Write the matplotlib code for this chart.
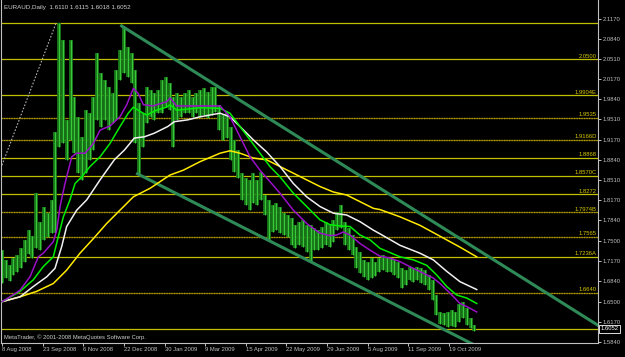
import matplotlib
matplotlib.use("Agg")
import matplotlib.pyplot as plt

symbol_title = "EURAUD,Daily  1.6110 1.6115 1.6018 1.6052"
copyright_text = "MetaTrader, \u00a9 2001-2008 MetaQuotes Software Corp."
last_close = 1.6052

# price bars, one every 3rd bar starting at bar 0
bar_step = 3
bar_high = [1.735, 1.719, 1.710, 1.722, 1.727, 1.739, 1.752, 1.768, 1.758, 1.829,
            1.781, 1.806, 1.796, 1.818, 1.930, 2.110, 2.082, 1.950, 2.082, 1.988,
            1.955, 1.922, 1.966, 1.961, 1.988, 2.060, 2.027, 2.016, 2.004, 1.994,
            2.032, 2.065, 2.103, 2.070, 2.060, 2.032, 1.978, 1.961, 2.004, 1.999,
            1.994, 1.999, 2.016, 2.021, 2.011, 1.988, 1.994, 1.988, 1.994, 1.999,
            1.988, 1.994, 1.999, 2.003, 1.996, 2.004, 2.004, 1.975, 1.958, 1.963,
            1.938, 1.917, 1.900, 1.862, 1.854, 1.851, 1.862, 1.851, 1.864, 1.826,
            1.818, 1.810, 1.813, 1.806, 1.796, 1.793, 1.788, 1.777, 1.781, 1.785,
            1.777, 1.777, 1.772, 1.768, 1.773, 1.781, 1.777, 1.785, 1.798, 1.810,
            1.781, 1.772, 1.760, 1.740, 1.732, 1.719, 1.715, 1.722, 1.715, 1.722,
            1.727, 1.724, 1.722, 1.719, 1.715, 1.706, 1.702, 1.707, 1.706, 1.707,
            1.706, 1.702, 1.694, 1.686, 1.661, 1.633, 1.631, 1.633, 1.636, 1.633,
            1.646, 1.649, 1.640, 1.623, 1.6115]
bar_low = [1.681, 1.689, 1.684, 1.694, 1.699, 1.706, 1.715, 1.729, 1.722, 1.739,
           1.735, 1.752, 1.757, 1.763, 1.763, 1.905, 1.912, 1.884, 1.917, 1.895,
           1.862, 1.851, 1.862, 1.884, 1.900, 1.950, 1.938, 1.950, 1.933, 1.945,
           1.950, 2.016, 2.027, 2.021, 2.011, 1.912, 1.859, 1.905, 1.945, 1.955,
           1.950, 1.961, 1.961, 1.971, 1.966, 1.905, 1.950, 1.955, 1.961, 1.961,
           1.955, 1.961, 1.955, 1.958, 1.953, 1.958, 1.963, 1.933, 1.917, 1.920,
           1.884, 1.864, 1.854, 1.818, 1.810, 1.801, 1.813, 1.810, 1.818, 1.793,
           1.752, 1.765, 1.768, 1.763, 1.760, 1.757, 1.743, 1.739, 1.743, 1.740,
           1.732, 1.715, 1.735, 1.735, 1.739, 1.743, 1.740, 1.748, 1.768, 1.772,
           1.743, 1.735, 1.727, 1.706, 1.697, 1.691, 1.686, 1.689, 1.692, 1.699,
           1.702, 1.699, 1.699, 1.694, 1.689, 1.673, 1.678, 1.686, 1.683, 1.686,
           1.681, 1.678, 1.669, 1.653, 1.628, 1.613, 1.612, 1.608, 1.610, 1.608,
           1.617, 1.623, 1.612, 1.607, 1.6018]

# moving averages (bar index, price)
ma_purple_x = [0, 6.3, 14.2, 22, 28.6, 32.5, 40.4, 43.1, 45.7, 49.6, 54.9, 58.8, 65.4,
               71.9, 77.2, 85, 92.9, 98.2, 103.4, 107.1, 111.3, 118.9, 129.7, 132.3,
               137.6, 155.9, 171.7, 179.5, 187.4, 195.3, 203.1, 211, 218.9, 229.4,
               239.9, 250.4, 258.3, 263.5, 268.7, 274, 281.9, 289.8, 297.6, 305.5,
               313.4, 323.9, 331.7, 339.6, 344.9, 352.8, 360.6, 365.9, 373.8]
ma_purple_y = [1.650, 1.658, 1.669, 1.691, 1.724, 1.730, 1.749, 1.768, 1.807, 1.845,
               1.889, 1.895, 1.895, 1.911, 1.933, 1.940, 1.955, 1.975, 2.002, 1.994,
               1.975, 1.973, 1.980, 1.986, 1.973, 1.973, 1.973, 1.955, 1.922, 1.889,
               1.867, 1.848, 1.829, 1.801, 1.779, 1.763, 1.759, 1.760, 1.765, 1.760,
               1.746, 1.735, 1.725, 1.722, 1.716, 1.705, 1.697, 1.689, 1.680, 1.664,
               1.647, 1.642, 1.633]

ma_green_x = [0, 14.2, 24.6, 32.5, 40.4, 44.3, 48.3, 53.5, 57.5, 62.8, 69.3, 77.2, 85,
              92.9, 99.4, 103.4, 108.7, 113.9, 121.8, 129.7, 132.3, 137.6, 155.9,
              171.7, 179.5, 187.4, 195.3, 203.1, 211, 218.9, 229.4, 239.9, 250.4,
              258.3, 266.1, 274, 281.9, 289.8, 297.6, 313.4, 323.9, 334.4, 342.3,
              350.2, 358, 365.9, 373.8]
ma_green_y = [1.650, 1.667, 1.686, 1.708, 1.724, 1.757, 1.790, 1.818, 1.845, 1.856,
              1.873, 1.889, 1.911, 1.939, 1.961, 1.971, 1.964, 1.958, 1.966, 1.971,
              1.975, 1.966, 1.970, 1.969, 1.961, 1.939, 1.917, 1.895, 1.873, 1.856,
              1.829, 1.807, 1.785, 1.777, 1.775, 1.774, 1.760, 1.752, 1.738, 1.724,
              1.719, 1.710, 1.694, 1.675, 1.661, 1.656, 1.647]

ma_white_x = [0, 14.2, 24.6, 35.2, 41.7, 47, 50.9, 58.8, 66.7, 77.2, 88.4, 96.3, 104.2,
              112, 119.9, 130.5, 135.7, 146.2, 155.9, 171.7, 179.5, 187.4, 197.9,
              208.4, 218.9, 229.4, 239.9, 250.4, 260.9, 271.4, 281.9, 292.4, 297.6,
              313.4, 329.1, 339.6, 350.2, 360.6, 373.8]
ma_white_y = [1.650, 1.658, 1.675, 1.691, 1.705, 1.741, 1.774, 1.801, 1.818, 1.851,
              1.884, 1.900, 1.920, 1.922, 1.928, 1.939, 1.947, 1.950, 1.955, 1.961,
              1.955, 1.939, 1.917, 1.897, 1.873, 1.845, 1.823, 1.807, 1.796, 1.793,
              1.782, 1.768, 1.762, 1.743, 1.730, 1.719, 1.700, 1.683, 1.670]

ma_yellow_x = [0, 14.2, 27.3, 40.4, 50.9, 61.4, 71.9, 82.4, 92.9, 103.4, 116.5, 132.3,
               142.8, 155.9, 171.7, 179.5, 187.4, 197.9, 208.4, 218.9, 229.4, 239.9,
               250.4, 260.9, 271.4, 281.9, 292.4, 297.6, 313.4, 329.1, 344.9, 360.6,
               373.8]
ma_yellow_y = [1.650, 1.658, 1.667, 1.680, 1.702, 1.730, 1.754, 1.779, 1.801, 1.823,
               1.837, 1.859, 1.867, 1.881, 1.895, 1.899, 1.895, 1.887, 1.884, 1.873,
               1.862, 1.851, 1.840, 1.831, 1.826, 1.815, 1.804, 1.802, 1.790, 1.776,
               1.758, 1.740, 1.724]

# trend lines (bar, price anchors)
upper_channel_x = [94.2, 469.3]
upper_channel_y = [2.105, 1.611]
lower_channel_x = [106.7, 380]
lower_channel_y = [1.861, 1.570]
dotted_x = [-1, 42.4]
dotted_y = [1.870, 2.109]

fib_levels = [2.1104, 2.0500, 1.9904, 1.9535, 1.9166, 1.8868, 1.8570, 1.8272,
              1.7974, 1.7565, 1.7236, 1.6640, 1.6052]
fib_labels = ["", "2.0500", "1.9904E", "1.9535", "1.9166D", "1.8868", "1.8570C",
              "1.8272", "1.7974B", "1.7565", "1.7236A", "1.6640", ""]
fib_dotted = [False, False, False, True, True, False, False, False, True, True,
              False, True, False]

price_ticks = [2.1170, 2.0840, 2.0510, 2.0170, 1.9840, 1.9510, 1.9170, 1.8840,
               1.8510, 1.8170, 1.7840, 1.7500, 1.7170, 1.6840, 1.6500, 1.6170, 1.5840]
date_labels = ["8 Aug 2008", "23 Sep 2008", "6 Nov 2008", "22 Dec 2008", "30 Jan 2009",
               "9 Mar 2009", "15 Apr 2009", "22 May 2009", "29 Jun 2009", "5 Aug 2009",
               "11 Sep 2009", "19 Oct 2009"]
bars_per_label = 32

plt.rcParams['font.family'] = ['Liberation Sans', 'DejaVu Sans']
axis_col = '#c0c0c0'
fs = 4.2

fig = plt.figure(figsize=(6.25, 3.57), dpi=100, facecolor='black')
ax = fig.add_axes([1 / 625, 14 / 357, 597 / 625, 343 / 357], facecolor='black')
ax.set_xlim(-0.8, 469.3)
ax.set_ylim(1.5818, 2.1478)

# fibo levels
for lev, lab, dot in zip(fib_levels, fib_labels, fib_dotted):
    if dot:
        ax.axhline(lev, color='#6e5c00', lw=0.9, zorder=1)
        ax.axhline(lev, color='#b0a000', lw=0.9, ls=(0, (1, 1)), zorder=1)
    else:
        ax.axhline(lev, color='#c0c000', lw=0.9, zorder=1)
    if lab:
        ax.text(0.998, lev + 0.0012, lab, transform=ax.get_yaxis_transform(),
                ha='right', va='bottom', color='#d8c800', fontsize=fs)

# price bars: dark body plus a thinner bright core for the bar texture
bar_x = [i * bar_step for i in range(len(bar_high))]
ax.vlines(bar_x, bar_low, bar_high, color='#1a7f1a', lw=2.7, zorder=2)
ax.vlines(bar_x, bar_low, bar_high, color='#3ccc3c', lw=0.7, zorder=2)

# channel lines
ax.plot(upper_channel_x, upper_channel_y, color='#2e8b57', lw=2.2, zorder=3)
ax.plot(lower_channel_x, lower_channel_y, color='#2e8b57', lw=2.2, zorder=3)
ax.plot(dotted_x, dotted_y, color='#b0b0b0', lw=0.8, ls=(0, (1.5, 1.5)), zorder=3)

# moving averages
ax.plot(ma_yellow_x, ma_yellow_y, color='#ffea00', lw=1.1, zorder=4)
ax.plot(ma_white_x, ma_white_y, color='#f0f0f0', lw=1.1, zorder=4)
ax.plot(ma_green_x, ma_green_y, color='#00ee00', lw=1.1, zorder=4)
ax.plot(ma_purple_x, ma_purple_y, color='#9a10c8', lw=1.1, zorder=4)

# axes styling
ax.spines['top'].set_visible(False)
for side in ['left', 'right', 'bottom']:
    ax.spines[side].set_color(axis_col)
    ax.spines[side].set_linewidth(0.8)

ax.yaxis.tick_right()
ax.set_yticks(price_ticks)
ax.set_yticklabels(['%.4f' % p for p in price_ticks])
ax.tick_params(axis='y', colors=axis_col, labelsize=fs, length=2.2, width=0.7,
               pad=1.4, direction='out')

xt = [i * bars_per_label for i in range(len(date_labels))]
ax.set_xticks(xt)
ax.set_xticklabels(date_labels, ha='left')
ax.tick_params(axis='x', colors=axis_col, labelsize=fs, length=2.2, width=0.7,
               pad=0.8, direction='out')

# texts
ax.text(0.005, 0.985, symbol_title, transform=ax.transAxes, ha='left', va='top',
        color='#d0d0d0', fontsize=fs + 0.3)
ax.text(0.005, 0.008, copyright_text, transform=ax.transAxes, ha='left', va='bottom',
        color='#d0d0d0', fontsize=fs)
ax.text(1.004, last_close, '%.4f' % last_close, transform=ax.get_yaxis_transform(),
        ha='left', va='center', color='white', fontsize=fs, clip_on=False,
        bbox=dict(boxstyle='square,pad=0.25', fc='black', ec='white', lw=0.6))

fig.savefig('out.png', dpi=100, facecolor='black')
